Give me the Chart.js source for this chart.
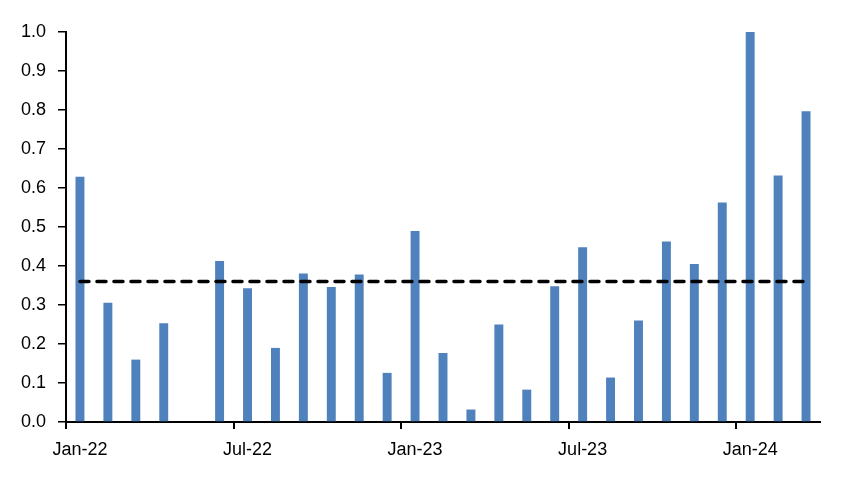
<!DOCTYPE html>
<html>
<head>
<meta charset="utf-8">
<script src="https://cdn.jsdelivr.net/npm/chart.js@4/dist/chart.umd.min.js"></script>
<style>
  html, body { margin: 0; padding: 0; background: #fff; }
  #wrap { width: 852px; height: 481px; }
</style>
</head>
<body>
<div id="wrap"><canvas id="c" width="852" height="481"></canvas></div>
<script>
const months = ['Jan-22','Feb-22','Mar-22','Apr-22','May-22','Jun-22','Jul-22','Aug-22','Sep-22','Oct-22','Nov-22','Dec-22',
                'Jan-23','Feb-23','Mar-23','Apr-23','May-23','Jun-23','Jul-23','Aug-23','Sep-23','Oct-23','Nov-23','Dec-23',
                'Jan-24','Feb-24','Mar-24'];
const values = [0.629, 0.306, 0.160, 0.253, null, 0.413, 0.343, 0.190, 0.381, 0.346, 0.378, 0.126,
                0.490, 0.177, 0.032, 0.250, 0.083, 0.348, 0.448, 0.114, 0.260, 0.463, 0.405, 0.563,
                1.000, 0.632, 0.797];
const averageLine = [0.36,0.36,0.36,0.36,0.36,0.36,0.36,0.36,0.36,0.36,0.36,0.36,0.36,0.36,0.36,0.36,0.36,0.36,0.36,0.36,0.36,0.36,0.36,0.36,0.36,0.36,0.36];
const yTicks = [0.0,0.1,0.2,0.3,0.4,0.5,0.6,0.7,0.8,0.9,1.0];

const FONT = { family: "'Liberation Sans', Arial, sans-serif", size: 18 };

new Chart(document.getElementById('c'), {
  data: {
    labels: months,
    datasets: [
      {
        type: 'line',
        data: averageLine,
        borderColor: '#000',
        borderWidth: 3.5,
        borderDash: [9, 8],
        borderCapStyle: 'round',
        pointRadius: 0,
        fill: false,
        order: 0
      },
      {
        type: 'bar',
        data: values,
        backgroundColor: '#4F81BD',
        borderWidth: 0,
        categoryPercentage: 1.0,
        barPercentage: 0.32,
        order: 1
      }
    ]
  },
  options: {
    responsive: false,
    animation: false,
    devicePixelRatio: 1,
    layout: { padding: { top: 32, right: 32, bottom: 0, left: 0 } },
    plugins: { legend: { display: false }, tooltip: { enabled: false } },
    scales: {
      x: {
        type: 'category',
        offset: true,
        grid: {
          offset: true, drawOnChartArea: false, drawTicks: true, tickLength: 7, lineWidth: 2,
          color: 'transparent',
          tickColor: function(ctx) { return ctx.index % 6 === 0 ? '#000' : 'rgba(0,0,0,0)'; }
        },
        border: { display: true, color: '#000', width: 2 },
        ticks: {
          autoSkip: false, maxRotation: 0, minRotation: 0, padding: 10,
          color: '#000', font: FONT,
          callback: function(v, i) { return i % 6 === 0 ? months[i] : ''; }
        },
        afterFit: function(s) { s.height = 59; }
      },
      y: {
        min: 0, max: 1,
        afterBuildTicks: function(s) { s.ticks = yTicks.map(v => ({ value: v })); },
        grid: { drawOnChartArea: false, drawTicks: true, tickLength: 8, color: '#000', lineWidth: 1.5 },
        border: { display: true, color: '#000', width: 2 },
        ticks: {
          padding: 12, color: '#000', font: FONT,
          callback: function(v) { return Number(v).toFixed(1); }
        },
        afterFit: function(s) { s.width = 66; }
      }
    }
  }
});
</script>
</body>
</html>
